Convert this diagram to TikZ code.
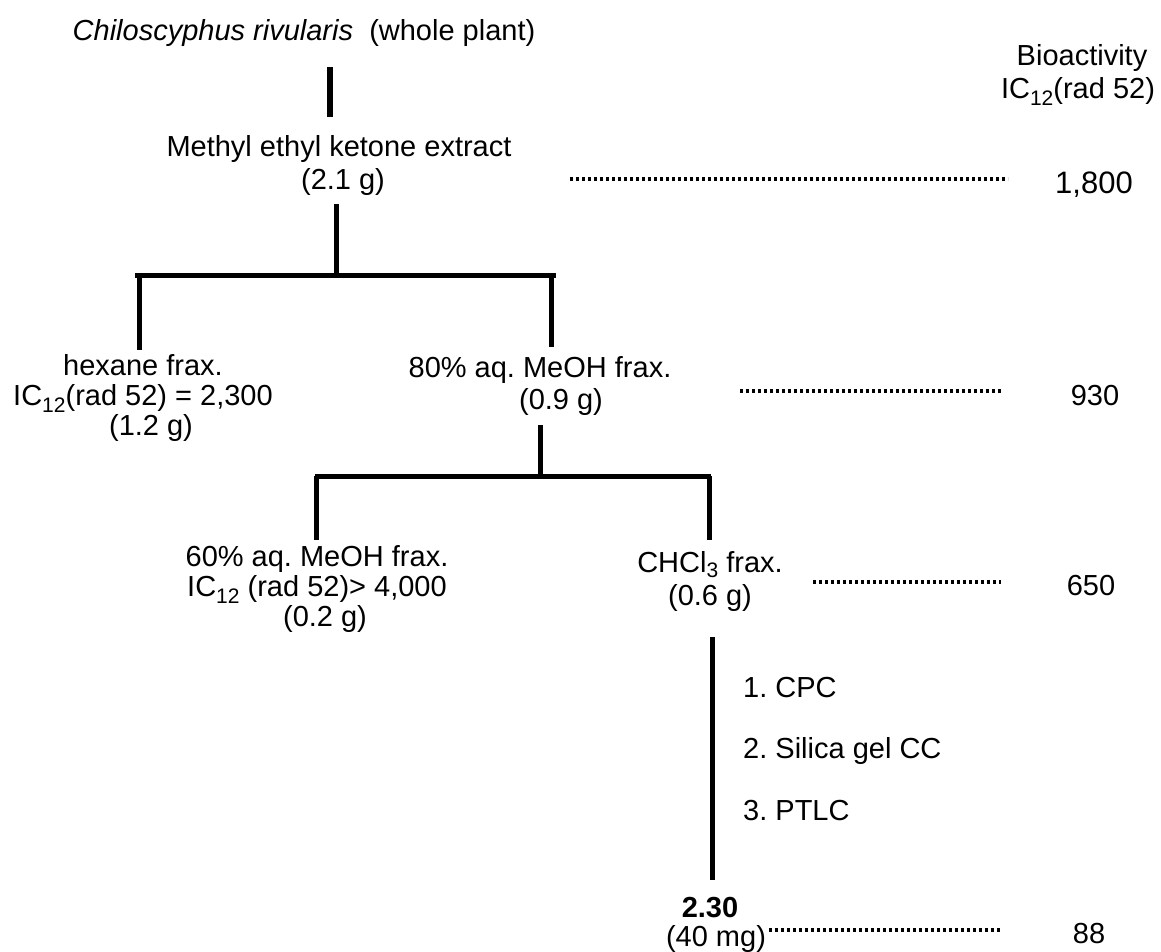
\documentclass[tikz,border=0pt]{standalone}
\usepackage{fontspec}
\setmainfont{Liberation Sans}
\frenchspacing
\newcommand{\subsc}[1]{\raisebox{-0.24em}{\fontsize{21}{21}\selectfont #1}}
\tikzset{
  txt/.style={font=\fontsize{29}{31}\selectfont, align=center, inner sep=0pt, outer sep=0pt},
  num/.style={font=\fontsize{29}{31}\selectfont, inner sep=0pt, anchor=base},
  solidline/.style={line width=5pt},
  dotline/.style={line width=4pt, dash pattern=on 3pt off 3pt},
}
\begin{document}
\begin{tikzpicture}[x=1pt,y=-1pt]
\useasboundingbox[fill=white] (0,0) rectangle (1161,951);

% texts
\node[num] (title) at (304,40) {\textit{Chiloscyphus rivularis}\ \ (whole plant)};
\node[txt, font=\fontsize{29}{33}\selectfont] (bio) at (1078,75) {\hspace*{8pt}Bioactivity\\IC\subsc{12}(rad 52)};
\node[txt, font=\fontsize{29}{33}\selectfont] (mek) at (339,165) {Methyl ethyl ketone extract\\\hspace*{8pt}(2.1 g)};
\node[num, font=\fontsize{31}{33}\selectfont] (v1) at (1094,193) {1,800};
\node[txt, font=\fontsize{29}{30}\selectfont] (hex) at (143,398) {hexane frax.\\IC\subsc{12}(rad 52) = 2,300\\\hspace*{16pt}(1.2 g)};
\node[txt, font=\fontsize{29}{32}\selectfont] (aq80) at (540,386) {80\% aq. MeOH frax.\\\hspace*{42pt}(0.9 g)};
\node[num] (v2) at (1095,405) {930};
\node[txt, font=\fontsize{29}{30}\selectfont] (aq60) at (317,589) {60\% aq. MeOH frax.\\IC\subsc{12} (rad 52)> 4,000\\\hspace*{16pt}(0.2 g)};
\node[txt, font=\fontsize{29}{33}\selectfont] (chcl) at (710,581) {CHCl\raisebox{-0.18em}{\fontsize{21}{21}\selectfont 3} frax.\\(0.6 g)};
\node[num] (v3) at (1091,595) {650};
\node[num, anchor=base west] (s1) at (743,697) {1. CPC};
\node[num, anchor=base west] (s2) at (743,758) {2. Silica gel CC};
\node[num, anchor=base west] (s3) at (743,820) {3. PTLC};
\node[txt, font=\fontsize{29}{29}\selectfont] (prod) at (716,925) {\hspace*{-12pt}\textbf{2.30}\\(40 mg)};
\node[num] (v4) at (1089,943) {88};

% connector points
\coordinate (t1) at (330,67);   \coordinate (t2) at (330,117);
\coordinate (m1) at (336,204);  \coordinate (m2) at (336,275);
\coordinate (b1l) at (135,275); \coordinate (b1r) at (556,275);
\coordinate (h1) at (139,275);  \coordinate (h2) at (139,350);
\coordinate (e1) at (551,275);  \coordinate (e2) at (551,347);
\coordinate (f1) at (540,425);  \coordinate (f2) at (540,476);
\coordinate (b2l) at (315,476); \coordinate (b2r) at (711,476);
\coordinate (g1) at (316,476);  \coordinate (g2) at (316,540);
\coordinate (c1) at (709,476);  \coordinate (c2) at (709,540);
\coordinate (p1) at (712,637);  \coordinate (p2) at (712,880);
\coordinate (d1a) at (570,179); \coordinate (d1b) at (1008,179);
\coordinate (d2a) at (740,391); \coordinate (d2b) at (1003,391);
\coordinate (d3a) at (813,582); \coordinate (d3b) at (1001,582);
\coordinate (d4a) at (769,930); \coordinate (d4b) at (1001,930);

% solid connectors
\draw[solidline, line width=6pt] (t1) -- (t2);
\draw[solidline] (m1) -- (m2);
\draw[solidline] (b1l) -- (b1r);
\draw[solidline] (h1) -- (h2);
\draw[solidline] (e1) -- (e2);
\draw[solidline] (f1) -- (f2);
\draw[solidline] (b2l) -- (b2r);
\draw[solidline] (g1) -- (g2);
\draw[solidline] (c1) -- (c2);
\draw[solidline] (p1) -- (p2);

% dotted leaders
\draw[dotline] (d1a) -- (d1b);
\draw[dotline] (d2a) -- (d2b);
\draw[dotline] (d3a) -- (d3b);
\draw[dotline] (d4a) -- (d4b);
\end{tikzpicture}
\end{document}
